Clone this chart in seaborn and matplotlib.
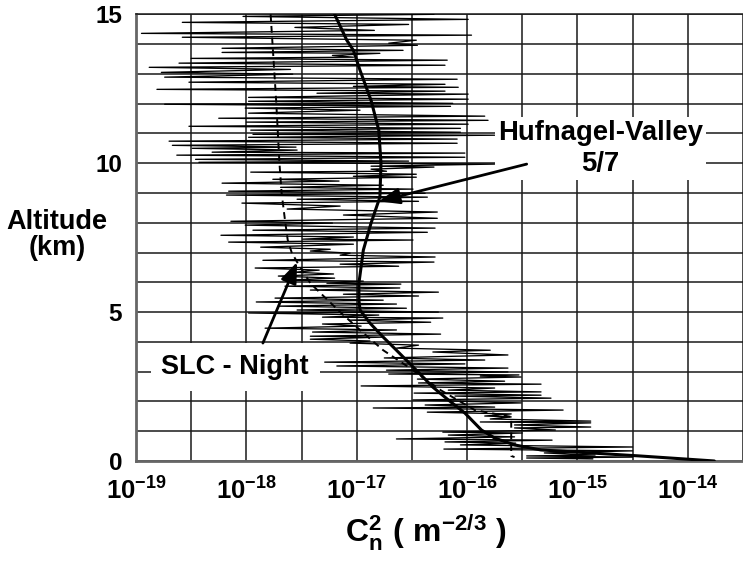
import numpy as np
import pandas as pd
import matplotlib
matplotlib.use('Agg')
import matplotlib.pyplot as plt
import seaborn as sns

# ------------------------------------------------------------
# DATA (altitude in km, Cn2 given as log10 exponent)
# ------------------------------------------------------------
noise_alt_km = [
    15.0, 14.93, 14.83, 14.73, 14.66, 14.56, 14.46, 14.36, 14.30, 14.23,
    14.13, 14.03, 13.96, 13.86, 13.79, 13.72, 13.69, 13.62, 13.56, 13.52,
    13.46, 13.36, 13.29, 13.22, 13.15, 13.05, 12.99, 12.89, 12.82, 12.72,
    12.65, 12.58, 12.55, 12.48, 12.42, 12.35, 12.32, 12.21, 12.15, 12.08,
    12.01, 11.98, 11.91, 11.85, 11.78, 11.68, 11.58, 11.51, 11.44, 11.38,
    11.31, 11.24, 11.17, 11.11, 11.04, 10.97, 10.94, 10.87, 10.81, 10.74,
    10.67, 10.60, 10.54, 10.50, 10.44, 10.37, 10.34, 10.27, 10.20, 10.13,
    10.07, 10.03, 9.97, 9.90, 9.87, 9.80, 9.73, 9.70, 9.63, 9.56,
    9.53, 9.46, 9.40, 9.33, 9.26, 9.19, 9.13, 9.06, 8.99, 8.93,
    8.86, 8.79, 8.72, 8.66, 8.56, 8.46, 8.36, 8.26, 8.15, 8.05,
    7.99, 7.92, 7.82, 7.75, 7.68, 7.58, 7.52, 7.45, 7.42, 7.35,
    7.28, 7.18, 7.11, 7.05, 6.98, 6.91, 6.85, 6.74, 6.68, 6.61,
    6.54, 6.48, 6.41, 6.34, 6.28, 6.21, 6.14, 6.07, 6.04, 5.97,
    5.94, 5.87, 5.81, 5.74, 5.67, 5.60, 5.54, 5.47, 5.40, 5.34,
    5.27, 5.20, 5.13, 5.07, 5.00, 4.97, 4.90, 4.83, 4.80, 4.73,
    4.66, 4.60, 4.53, 4.46, 4.40, 4.33, 4.26, 4.19, 4.16, 4.09,
    4.03, 3.96, 3.89, 3.79, 3.72, 3.66, 3.56, 3.46, 3.39, 3.32,
    3.26, 3.19, 3.12, 3.05, 2.99, 2.92, 2.89, 2.85, 2.82, 2.75,
    2.68, 2.62, 2.58, 2.52, 2.45, 2.38, 2.32, 2.28, 2.21, 2.18,
    2.11, 2.05, 1.95, 1.88, 1.81, 1.78, 1.71, 1.64, 1.58, 1.51,
    1.48, 1.41, 1.34, 1.31, 1.28, 1.21, 1.14, 1.11, 1.04, 0.97,
    0.94, 0.87, 0.81, 0.74, 0.70, 0.64, 0.60, 0.54, 0.47, 0.40,
    0.34, 0.27, 0.20, 0.17, 0.13, 0.10, 0.07,
]
noise_cn2_exp = [
    -16.30, -18.03, -15.99, -18.58, -16.53, -17.56, -16.84, -18.95, -15.96, -18.58,
    -16.46, -16.71, -16.45, -18.22, -16.58, -18.22, -16.79, -17.22, -17.03, -18.50,
    -16.18, -18.61, -16.20, -18.88, -17.60, -18.77, -17.58, -18.74, -16.09, -18.52,
    -16.20, -17.03, -16.08, -18.81, -16.20, -17.36, -15.99, -17.98, -15.99, -17.98,
    -16.13, -18.74, -16.15, -18.01, -16.97, -17.98, -15.84, -18.25, -15.81, -18.00,
    -15.99, -18.52, -16.06, -17.96, -16.06, -17.94, -15.75, -17.98, -16.09, -18.70,
    -16.09, -18.67, -17.55, -18.49, -17.54, -18.31, -16.02, -18.63, -16.02, -18.46,
    -16.53, -18.43, -15.75, -16.87, -16.30, -16.87, -16.73, -17.96, -16.46, -17.03,
    -16.46, -17.76, -17.16, -18.22, -16.76, -17.69, -16.49, -18.16, -16.38, -18.18,
    -16.36, -17.54, -16.44, -18.04, -17.15, -17.63, -16.27, -17.12, -16.27, -18.14,
    -17.22, -18.01, -16.29, -17.94, -16.36, -18.23, -17.03, -17.49, -16.49, -18.16,
    -17.03, -17.87, -17.24, -17.42, -17.06, -17.15, -16.29, -17.85, -16.30, -17.15,
    -16.62, -17.92, -17.34, -17.56, -17.21, -17.71, -17.20, -17.65, -16.94, -17.27,
    -16.60, -17.65, -16.61, -17.42, -16.26, -17.12, -16.44, -17.74, -16.76, -17.91,
    -16.64, -17.71, -16.55, -17.54, -16.26, -17.98, -16.80, -17.31, -16.22, -17.07,
    -16.33, -17.31, -16.96, -17.83, -16.64, -17.40, -16.24, -17.42, -16.76, -17.42,
    -16.88, -17.06, -16.44, -16.64, -15.79, -16.31, -15.63, -16.75, -15.84, -17.29,
    -16.02, -17.18, -15.63, -16.73, -15.63, -16.71, -15.53, -15.88, -15.51, -16.45,
    -15.66, -16.44, -15.33, -16.96, -15.75, -16.17, -15.33, -16.48, -15.33, -16.11,
    -15.24, -16.49, -15.51, -16.38, -15.75, -16.85, -15.13, -16.36, -15.60, -15.84,
    -15.60, -15.79, -14.88, -15.88, -14.88, -15.57, -14.88, -15.57, -15.20, -16.22,
    -15.50, -16.17, -15.57, -16.64, -15.23, -16.20, -15.56, -16.06, -14.50, -16.21,
    -14.50, -15.30, -14.84, -15.46, -14.50, -15.46, -14.86,
]

hv_alt_km = [15.0, 14.13, 13.79, 13.12, 12.11, 11.11, 10.0, 8.86, 7.99, 7.08,
             5.97, 5.40, 5.07, 4.63, 4.16, 3.72, 3.05, 2.48, 2.05, 1.61,
             1.04, 0.77, 0.54, 0.37, 0.27, 0.17, 0.0]
hv_cn2_exp = [-17.20, -17.09, -17.03, -16.97, -16.87, -16.80, -16.78, -16.79, -16.87, -16.94,
              -16.98, -16.98, -16.97, -16.88, -16.76, -16.64, -16.46, -16.31, -16.17, -16.02,
              -15.87, -15.75, -15.57, -15.33, -14.88, -14.44, -13.76]

slc_alt_km = [15.0, 12.11, 10.0, 8.99, 8.09, 7.42, 7.01, 6.68, 5.97, 5.50,
              5.00, 4.30, 3.72, 3.15, 2.38, 1.71, 1.48, 0.17, 0.13]
slc_cn2_exp = [-17.78, -17.73, -17.70, -17.68, -17.65, -17.625, -17.59, -17.54, -17.42, -17.29,
               -17.15, -16.94, -16.76, -16.53, -16.24, -15.93, -15.60, -15.60, -15.57]

x_decades = [-19, -18, -17, -16, -15, -14]
y_major = [0, 5, 10, 15]

hv_label = 'Hufnagel-Valley\n5/7'
slc_label = 'SLC - Night'
# annotation anchors: (log10 Cn2, altitude km)
hv_text_at = (-14.79, 10.5)
hv_arrow_tail = (-15.46, 9.97)
hv_arrow_head = (-16.80, 8.72)
slc_text_at = (-18.10, 3.15)
slc_arrow_tail = (-17.85, 3.96)
slc_arrow_head = (-17.54, 6.68)

# ------------------------------------------------------------
# STYLE
# ------------------------------------------------------------
sns.set_theme(style='white', rc={'text.color': 'black', 'xtick.color': 'black',
                                 'ytick.color': 'black', 'axes.labelcolor': 'black'})
plt.rcParams['font.family'] = ['Liberation Sans', 'DejaVu Sans']
plt.rcParams['font.weight'] = 'bold'
plt.rcParams['mathtext.fontset'] = 'custom'
plt.rcParams['mathtext.rm'] = 'Liberation Sans:bold'
plt.rcParams['mathtext.it'] = 'Liberation Sans:bold'
plt.rcParams['mathtext.bf'] = 'Liberation Sans:bold'
plt.rcParams['mathtext.default'] = 'rm'

noise = pd.DataFrame({'cn2': np.power(10.0, noise_cn2_exp), 'alt': noise_alt_km})
hv = pd.DataFrame({'cn2': np.power(10.0, hv_cn2_exp), 'alt': hv_alt_km})
slc = pd.DataFrame({'cn2': np.power(10.0, slc_cn2_exp), 'alt': slc_alt_km})

fig = plt.figure(figsize=(7.43, 5.68), dpi=100)
ax = fig.add_axes([0.183, 0.1884, 0.817, 0.7864])

sns.lineplot(data=noise, x='cn2', y='alt', sort=False, estimator=None,
             color='black', lw=0.95, ax=ax, zorder=3)
sns.lineplot(data=slc, x='cn2', y='alt', sort=False, estimator=None,
             color='black', lw=1.4, linestyle=(0, (3.5, 2.5)), ax=ax, zorder=4)
sns.lineplot(data=hv, x='cn2', y='alt', sort=False, estimator=None,
             color='black', lw=2.2, ax=ax, zorder=4)

ax.set_xscale('log')
ax.set_xlim(1e-19, 10 ** -13.58)
ax.set_ylim(0, 15)

ax.set_xticks([10.0 ** d for d in x_decades])
ax.set_xticks([10.0 ** (d + 0.5) for d in x_decades], minor=True)
ax.set_xticklabels([r'$10^{%d}$' % d for d in x_decades])
ax.set_yticks(y_major)
ax.set_yticks(range(0, 16), minor=True)
ax.set_yticklabels([str(v) for v in y_major])

ax.grid(which='both', color='#1a1a1a', lw=1.1)
ax.set_axisbelow(True)
ax.tick_params(axis='both', which='both', length=0)
ax.tick_params(axis='x', labelsize=18.5, pad=12)
ax.tick_params(axis='y', labelsize=17.5, pad=10)
for lab in ax.get_xticklabels() + ax.get_yticklabels():
    lab.set_fontweight('bold')

ax.spines['right'].set_visible(False)
ax.spines['top'].set_color('#1a1a1a')
ax.spines['top'].set_linewidth(1.1)
for side in ['left', 'bottom']:
    ax.spines[side].set_color('#666666')
    ax.spines[side].set_linewidth(2)
ax.set_xlabel('')
ax.set_ylabel('')

# annotations
ax.text(10 ** hv_text_at[0], hv_text_at[1], hv_label, ha='center', va='center',
        fontsize=19.8, fontweight='bold', linespacing=1.25, zorder=6,
        bbox=dict(boxstyle='square,pad=0.1', fc='white', ec='none'))
ax.text(10 ** slc_text_at[0], slc_text_at[1], slc_label, ha='center', va='center',
        fontsize=19.5, fontweight='bold', zorder=6,
        bbox=dict(boxstyle='square,pad=0.4', fc='white', ec='none'))
for tail, head in [(hv_arrow_tail, hv_arrow_head), (slc_arrow_tail, slc_arrow_head)]:
    ax.annotate('', xy=(10 ** head[0], head[1]), xytext=(10 ** tail[0], tail[1]),
                arrowprops=dict(arrowstyle='-|>,head_length=0.9,head_width=0.35',
                                color='black', lw=2, shrinkA=0, shrinkB=0,
                                mutation_scale=14),
                zorder=7)

fig.text(0.0767, 0.586, 'Altitude\n(km)', ha='center', va='center',
         fontsize=19.5, fontweight='bold', linespacing=1.0)
fig.text(0.574, 0.0616, r'$C_n^2\ (\ m^{-2/3}\ )$', ha='center', va='center',
         fontsize=23)

fig.savefig('out.png', dpi=100)
